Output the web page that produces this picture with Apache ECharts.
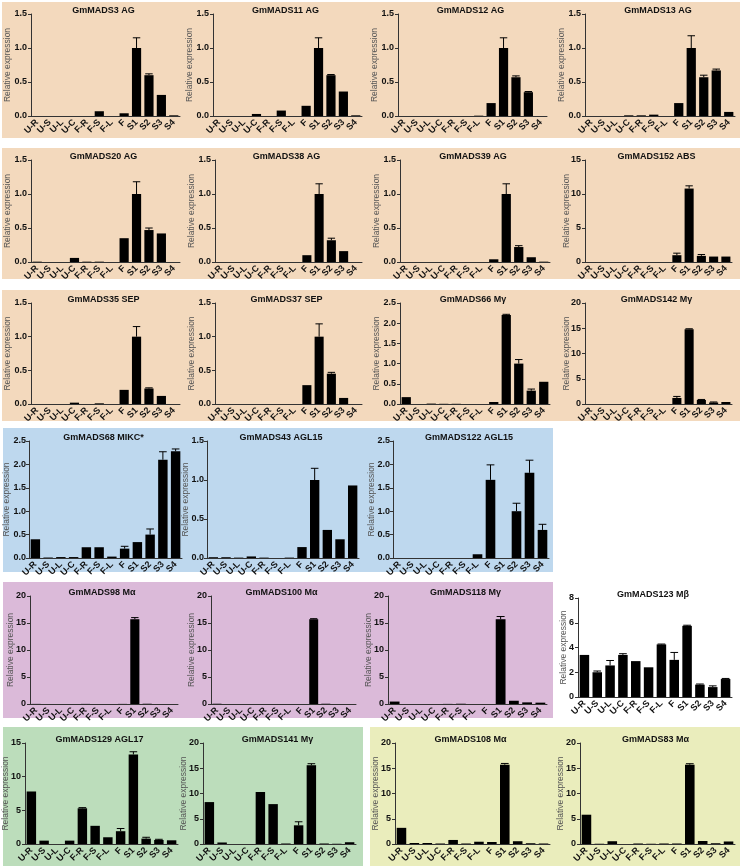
<!DOCTYPE html>
<html>
<head>
<meta charset="utf-8">
<script src="https://cdn.jsdelivr.net/npm/echarts@6/dist/echarts.min.js"></script>
<style>
html,body{margin:0;padding:0;background:#fff;}
#chart{width:741px;height:868px;}
</style>
</head>
<body>
<div id="chart"></div>
<script>
// ---------- DATA ----------
const categories = ['U-R','U-S','U-L','U-C','F-R','F-S','F-L','F','S1','S2','S3','S4'];

const titles = [
  'GmMADS3 AG','GmMADS11 AG','GmMADS12 AG','GmMADS13 AG',
  'GmMADS20 AG','GmMADS38 AG','GmMADS39 AG','GmMADS152 ABS',
  'GmMADS35 SEP','GmMADS37 SEP','GmMADS66 Mγ','GmMADS142 Mγ',
  'GmMADS68 MIKC*','GmMADS43 AGL15','GmMADS122 AGL15',
  'GmMADS98 Mα','GmMADS100 Mα','GmMADS118 Mγ','GmMADS123 Mβ',
  'GmMADS129 AGL17','GmMADS141 Mγ','GmMADS108 Mα','GmMADS83 Mα'
];

const gm3     = [0,0,0,0,0,0.07,0,0.04,1.0,0.6,0.31,0.01];
const gm3Err  = [0,0,0,0,0,0,0,0,0.15,0.02,0,0];
const gm11    = [0,0,0,0.03,0,0.08,0,0.15,1.0,0.6,0.36,0.01];
const gm11Err = [0,0,0,0,0,0,0,0,0.15,0.01,0,0];
const gm12    = [0,0,0,0,0,0,0.005,0.19,1.0,0.57,0.35,0];
const gm12Err = [0,0,0,0,0,0,0,0,0.15,0.02,0.01,0];
const gm13    = [0,0,0,0.01,0.01,0.02,0,0.19,1.0,0.57,0.67,0.06];
const gm13Err = [0,0,0,0,0,0,0,0,0.18,0.03,0.02,0];
const gm20    = [0.005,0,0,0.06,0.005,0.005,0,0.35,1.0,0.47,0.42,0];
const gm20Err = [0,0,0,0,0,0,0,0,0.18,0.03,0,0];
const gm38    = [0,0,0,0,0,0,0,0.1,1.0,0.32,0.16,0];
const gm38Err = [0,0,0,0,0,0,0,0,0.15,0.03,0,0];
const gm39    = [0,0,0,0,0,0,0,0.04,1.0,0.22,0.07,0.005];
const gm39Err = [0,0,0,0,0,0,0,0,0.15,0.02,0,0];
const gm152   = [0,0,0,0,0,0,0,1.0,10.8,0.9,0.8,0.8];
const gm152Err= [0,0,0,0,0,0,0,0.3,0.4,0.2,0,0];
const gm35    = [0,0,0,0.02,0,0.01,0,0.21,1.0,0.23,0.12,0];
const gm35Err = [0,0,0,0,0,0,0,0,0.15,0.01,0,0];
const gm37    = [0,0,0,0,0,0,0,0.28,1.0,0.45,0.09,0];
const gm37Err = [0,0,0,0,0,0,0,0,0.19,0.02,0,0];
const gm66    = [0.17,0,0.01,0.005,0.005,0,0,0.05,2.2,1.0,0.33,0.55];
const gm66Err = [0,0,0,0,0,0,0,0,0.02,0.1,0.04,0];
const gm142   = [0,0,0,0,0,0,0,1.2,14.8,0.8,0.3,0.4];
const gm142Err= [0,0,0,0,0,0,0,0.3,0.1,0.1,0.1,0];
const gm68    = [0.4,0.01,0.02,0.02,0.23,0.23,0.03,0.2,0.34,0.5,2.1,2.28];
const gm68Err = [0,0,0,0,0,0,0,0.05,0,0.12,0.17,0.05];
const gm43    = [0.01,0.01,0.005,0.02,0.005,0,0.005,0.14,1.0,0.36,0.24,0.93];
const gm43Err = [0,0,0,0,0,0,0,0,0.15,0,0,0];
const gm122   = [0,0,0,0,0,0,0.08,1.67,0,1.0,1.82,0.6];
const gm122Err= [0,0,0,0,0,0,0,0.32,0,0.17,0.27,0.12];
const gm98    = [0.02,0,0,0,0.02,0,0,0.02,15.7,0.05,0,0];
const gm98Err = [0,0,0,0,0,0,0,0,0.3,0,0,0];
const gm100   = [0.05,0,0,0,0,0,0,0,15.7,0.05,0,0];
const gm100Err= [0,0,0,0,0,0,0,0,0.1,0,0,0];
const gm118   = [0.45,0,0,0,0.02,0.05,0,0,15.7,0.6,0.3,0.25];
const gm118Err= [0,0,0,0,0,0,0,0,0.5,0,0,0];
const gm123   = [3.4,2.0,2.55,3.4,2.9,2.4,4.25,3.0,5.75,1.0,0.8,1.45];
const gm123Err= [0,0.1,0.4,0.1,0,0,0.03,0.6,0.05,0.05,0.1,0.05];
const gm129   = [7.8,0.5,0,0.5,5.3,2.7,1.0,1.9,13.3,0.8,0.6,0.55];
const gm129Err= [0,0,0,0,0.1,0,0,0.4,0.4,0.2,0.1,0];
const gm141   = [8.3,0.3,0,0,10.3,7.9,0.1,3.7,15.6,0.1,0.05,0.35];
const gm141Err= [0,0,0,0,0,0,0,0.7,0.3,0,0,0];
const gm108   = [3.2,0.2,0.2,0.1,0.8,0.1,0.45,0.4,15.7,0.55,0.15,0.1];
const gm108Err= [0,0,0,0,0,0,0,0,0.25,0,0,0];
const gm83    = [5.8,0.05,0.55,0,0.1,0.05,0.1,0.1,15.7,0.6,0.15,0.5];
const gm83Err = [0,0,0,0,0,0,0,0,0.2,0,0,0];

const values = [gm3,gm11,gm12,gm13,gm20,gm38,gm39,gm152,gm35,gm37,gm66,gm142,
                gm68,gm43,gm122,gm98,gm100,gm118,gm123,gm129,gm141,gm108,gm83];
const errors = [gm3Err,gm11Err,gm12Err,gm13Err,gm20Err,gm38Err,gm39Err,gm152Err,gm35Err,gm37Err,gm66Err,gm142Err,
                gm68Err,gm43Err,gm122Err,gm98Err,gm100Err,gm118Err,gm123Err,gm129Err,gm141Err,gm108Err,gm83Err];

const yMax      = [1.5,1.5,1.5,1.5, 1.5,1.5,1.5,15, 1.5,1.5,2.5,20, 2.5,1.5,2.5, 20,20,20,8, 15,20,20,20];
const yStep     = [0.5,0.5,0.5,0.5, 0.5,0.5,0.5,5,  0.5,0.5,0.5,5,  0.5,0.5,0.5, 5,5,5,2,   5,5,5,5];
const yDecimals = [1,1,1,1, 1,1,1,0, 1,1,1,0, 1,1,1, 0,0,0,0, 0,0,0,0];

// ---------- LAYOUT ----------
// [left, top, width, height, nameGap, labelMargin] of each plot area
const layout = [
  [31,14,149,102,18.5,4],[213,14,149,102,18.5,4],[398,14,149,102,18.5,4],[585,14,150,102,18.5,4],
  [31,160,149,102,18.5,4],[215,160,147,102,18.5,4],[400,160,150,102,18.5,4],[585,160,147,102,13.5,4],
  [31,303,149,101,18.5,4],[215,303,147,101,18.5,4],[400,303,150,101,18.5,4],[585,303,147,101,13.5,4],
  [29,441,153,117,18,3],[207,441,152,117,17,3],[393,441,156,117,17,3],
  [30,596,148,108,15,4],[211,596,145,108,15,4],[388,596,159,108,15,4],[578,598,154,99,10,4],
  [25,743,153,101,15,4],[203,743,153,101,15,4],[395,743,155,101,15,4],[580,743,155,101,15,4]
];
// background panels [x, y, w, h, color]
const backgrounds = [
  [2,2,738,136,'#F3D9BD'],
  [2,148,738,131,'#F3D9BD'],
  [2,290,738,131,'#F3D9BD'],
  [3,428,550,144,'#BED8EE'],
  [3,582,550,136,'#DBBAD9'],
  [3,727,360,139,'#BCDDBB'],
  [370,727,370,139,'#EAEDBC']
];

const FONT = '"Liberation Sans", Arial, sans-serif';
const grids = [], xAxes = [], yAxes = [], series = [], graphics = [];

backgrounds.forEach(b => {
  graphics.push({type:'rect', z:-10, silent:true, shape:{x:b[0],y:b[1],width:b[2],height:b[3]}, style:{fill:b[4]}});
});

layout.forEach((L, i) => {
  grids.push({left:L[0], top:L[1], width:L[2], height:L[3], containLabel:false});
  xAxes.push({
    type:'category', gridIndex:i, data:categories,
    axisLine:{lineStyle:{color:'#333', width:1}},
    axisTick:{alignWithLabel:true, length:3, lineStyle:{color:'#333'}},
    axisLabel:{rotate:45, interval:0, fontSize:9, fontWeight:'bold', color:'#111', fontFamily:FONT, margin:5}
  });
  const dec = yDecimals[i];
  yAxes.push({
    type:'value', gridIndex:i, min:0, max:yMax[i], interval:yStep[i],
    name:'Relative expression', nameLocation:'middle', nameGap: L[4], nameMoveOverlap:false,
    nameTextStyle:{fontSize:8.5, color:'#555', fontFamily:FONT},
    axisLine:{show:true, lineStyle:{color:'#333', width:1}},
    axisTick:{show:true, length:3, lineStyle:{color:'#333'}},
    splitLine:{show:false},
    axisLabel:{fontSize:9, fontWeight:'bold', color:'#111', fontFamily:FONT, margin:L[5],
      formatter: v => v.toFixed(dec)}
  });
  series.push({
    type:'bar', xAxisIndex:i, yAxisIndex:i, data:values[i], barWidth:'74%',
    itemStyle:{color:'#000'}, silent:true, animation:false
  });
  series.push({
    type:'custom', xAxisIndex:i, yAxisIndex:i, silent:true, animation:false, z:3,
    data: values[i].map((v, k) => [k, v, errors[i][k]]),
    encode:{x:0, y:1},
    renderItem: (params, api) => {
      const e = api.value(2);
      if (!e) return null;
      const k = api.value(0), v = api.value(1);
      const p0 = api.coord([k, v]);
      const p1 = api.coord([k, v + e]);
      const hw = api.size([1, 0])[0] * 0.3;
      return {type:'group', children:[
        {type:'line', shape:{x1:p0[0], y1:p0[1], x2:p1[0], y2:p1[1]}, style:{stroke:'#000', lineWidth:1}},
        {type:'line', shape:{x1:p1[0]-hw, y1:p1[1], x2:p1[0]+hw, y2:p1[1]}, style:{stroke:'#000', lineWidth:1}}
      ]};
    }
  });
  graphics.push({
    type:'text', silent:true, z:5,
    x: L[0] + L[2] / 2 - 2, y: L[1] - 3,
    style:{text:titles[i], font:'bold 9px ' + FONT, fill:'#111', textAlign:'center', textVerticalAlign:'middle'}
  });
});

const chart = echarts.init(document.getElementById('chart'), null, {renderer:'canvas'});
chart.setOption({
  animation:false,
  backgroundColor:'#fff',
  grid:grids, xAxis:xAxes, yAxis:yAxes, series:series,
  graphic:{elements:graphics}
});
</script>
</body>
</html>
